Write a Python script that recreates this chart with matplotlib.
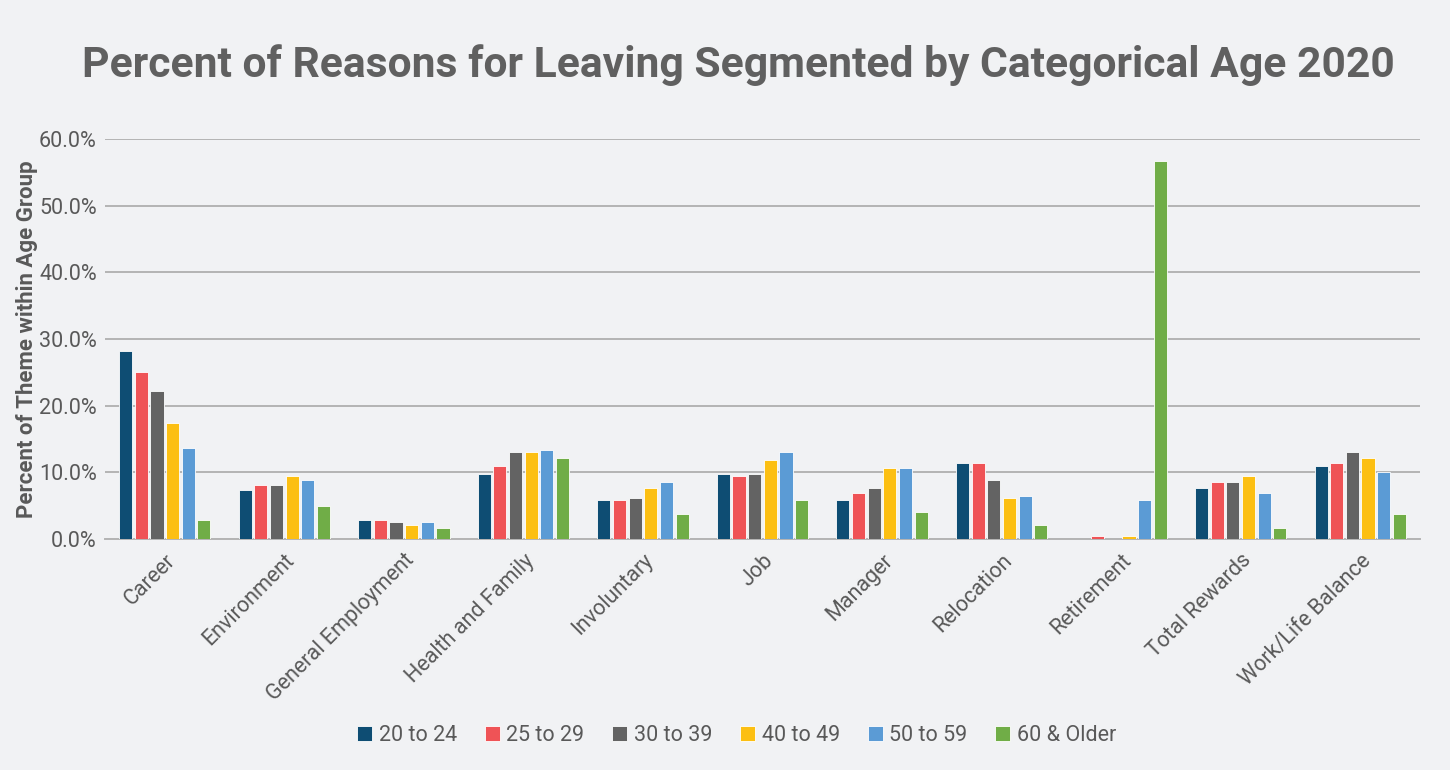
import matplotlib.pyplot as plt
import numpy as np
from matplotlib.ticker import PercentFormatter

# 数据（从图中读取的估计值，单位 %）
categories = ['Career', 'Environment', 'General Employment', 'Health and Family',
              'Involuntary', 'Job', 'Manager', 'Relocation', 'Retirement',
              'Total Rewards', 'Work/Life Balance']
age_groups = ['20 to 24', '25 to 29', '30 to 39', '40 to 49', '50 to 59', '60 & Older']

age_20_24 = [28.2, 7.3, 2.9, 9.7, 5.8, 9.7, 5.8, 11.4, 0.0, 7.7, 10.9]
age_25_29 = [25.0, 8.1, 2.9, 10.9, 5.8, 9.4, 6.9, 11.4, 0.5, 8.5, 11.4]
age_30_39 = [22.2, 8.1, 2.5, 13.0, 6.1, 9.7, 7.7, 8.9, 0.0, 8.5, 13.0]
age_40_49 = [17.4, 9.4, 2.1, 13.0, 7.7, 11.8, 10.6, 6.1, 0.5, 9.4, 12.2]
age_50_59 = [13.7, 8.9, 2.5, 13.4, 8.5, 13.0, 10.6, 6.5, 5.8, 6.9, 10.1]
age_60_up = [2.9, 4.9, 1.7, 12.2, 3.7, 5.8, 4.1, 2.1, 56.7, 1.7, 3.7]

series = [age_20_24, age_25_29, age_30_39, age_40_49, age_50_59, age_60_up]
colors = ['#0E4D73', '#EF5356', '#636363', '#FCBF12', '#5B9BD5', '#70AD47']

bg = '#F1F2F4'
text_gray = '#595959'
plt.rcParams['font.family'] = ['Roboto', 'DejaVu Sans']

fig = plt.figure(figsize=(14.5, 7.7), dpi=100, facecolor=bg)
ax = fig.add_axes([105 / 1450, 0.30, 1315 / 1450, 0.5195])
ax.set_facecolor(bg)

x = np.arange(len(categories))
slot = 0.131
width = 0.11
for i, (vals, col, lab) in enumerate(zip(series, colors, age_groups)):
    ax.bar(x + (i - 2.5) * slot, vals, width=width, color=col, label=lab,
           edgecolor='#FFFFFF', linewidth=0.6, zorder=3)

ax.set_xlim(-0.5, len(categories) - 0.5)
ax.set_ylim(0, 60)
ax.set_yticks(np.arange(0, 61, 10))
ax.yaxis.set_major_formatter(PercentFormatter(decimals=1))
ax.grid(axis='y', color='#B4B4B4', linewidth=1.4, zorder=0)
for s in ['top', 'right', 'left']:
    ax.spines[s].set_visible(False)
ax.spines['bottom'].set_color('#B4B4B4')
ax.spines['bottom'].set_linewidth(1.4)

ax.tick_params(axis='y', length=0, labelsize=15.5, labelcolor=text_gray, pad=6)
ax.tick_params(axis='x', length=0, labelsize=15.5, labelcolor=text_gray, pad=8)
ax.set_xticks(x)
ax.set_xticklabels(categories, rotation=45, ha='right', rotation_mode='anchor')

ax.set_ylabel('Percent of Theme within Age Group', fontsize=16, fontweight='bold',
              color=text_gray, labelpad=1)

fig.text(0.509, 0.915, 'Percent of Reasons for Leaving Segmented by Categorical Age 2020',
         ha='center', va='center', fontsize=30.7, fontweight='bold', color='#606060')

leg = fig.legend(loc='center', bbox_to_anchor=(0.508, 0.045), ncol=6, frameon=False,
                 fontsize=15.5, handlelength=0.7, handleheight=0.7, handletextpad=0.3,
                 columnspacing=1.3, labelcolor=text_gray)

plt.savefig('out.png', dpi=100, facecolor=bg)
plt.close()
